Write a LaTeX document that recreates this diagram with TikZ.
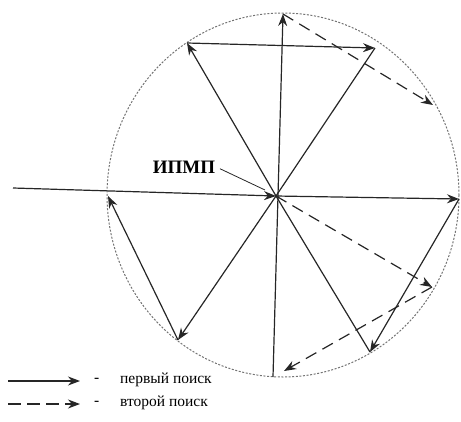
\documentclass[tikz,border=0pt]{standalone}
\usepackage{fontspec}
\setmainfont{Liberation Serif}
\usetikzlibrary{arrows.meta}

\begin{document}
\begin{tikzpicture}[x=1pt, y=-1pt,
        first/.style={line width=1.2pt, black!85, -{Stealth[length=12pt,width=9pt]}},
        second/.style={first, dash pattern=on 12pt off 7pt},
        legend/.style={anchor=west, inner sep=0pt, font=\fontsize{15.5}{18}\selectfont}]
            \useasboundingbox (0,0) rectangle (461,421);
            \draw[black!55, line width=1pt, dash pattern=on 2pt off 1.6pt] (283,195) ellipse [x radius=176, y radius=182];

            \coordinate (start) at (13,188);
            \coordinate (O) at (276,196);
            \coordinate (T) at (283,14);
            \coordinate (UL) at (187,43);
            \coordinate (UR) at (375,48);
            \coordinate (R) at (459,199);
            \coordinate (LR) at (370,352);
            \coordinate (B) at (273,377);
            \coordinate (Bd) at (284,371);
            \coordinate (LL) at (178,340);
            \coordinate (L) at (108,196);
            \coordinate (D1) at (433,105);
            \coordinate (D2) at (432,287);
            \coordinate (lead) at (265,190);

            \node[font=\bfseries\fontsize{19}{19}\selectfont, inner sep=1pt] (ipmp) at (184,167) {ИПМП};
            \draw[black!85, line width=0.8pt, shorten <=4pt] (ipmp.east) -- (lead);

            % first search
            \draw[first] (start) -- (O);
            \draw[first] (O) -- (R);
            \draw[first] (R) -- (LR);
            \draw[first, -] (LR) -- (O);
            \draw[first] (B) -- (T);
            \draw[first] (O) -- (LL);
            \draw[first] (LL) -- (L);
            \draw[first] (O) -- (UL);
            \draw[first] (UL) -- (UR);
            \draw[first, -] (UR) -- (O);

            % second search
            \draw[second] (T) -- (D1);
            \draw[second] (O) -- (D2);
            \draw[second] (D2) -- (Bd);

            % legend
            \coordinate (k1a) at (8,381);
            \coordinate (k1b) at (80,381);
            \coordinate (k2a) at (8,404);
            \coordinate (k2b) at (80,404);
            \draw[first] (k1a) -- (k1b);
            \draw[second, dash pattern=on 13pt off 6pt] (k2a) -- (k2b);
            \node[legend] (m1) at (94,380) {-};
            \node[legend] (m2) at (94,403) {-};
            \node[legend] (t1) at (120,380) {первый поиск};
            \node[legend] (t2) at (120,403) {второй поиск};
        \end{tikzpicture}
\end{document}
